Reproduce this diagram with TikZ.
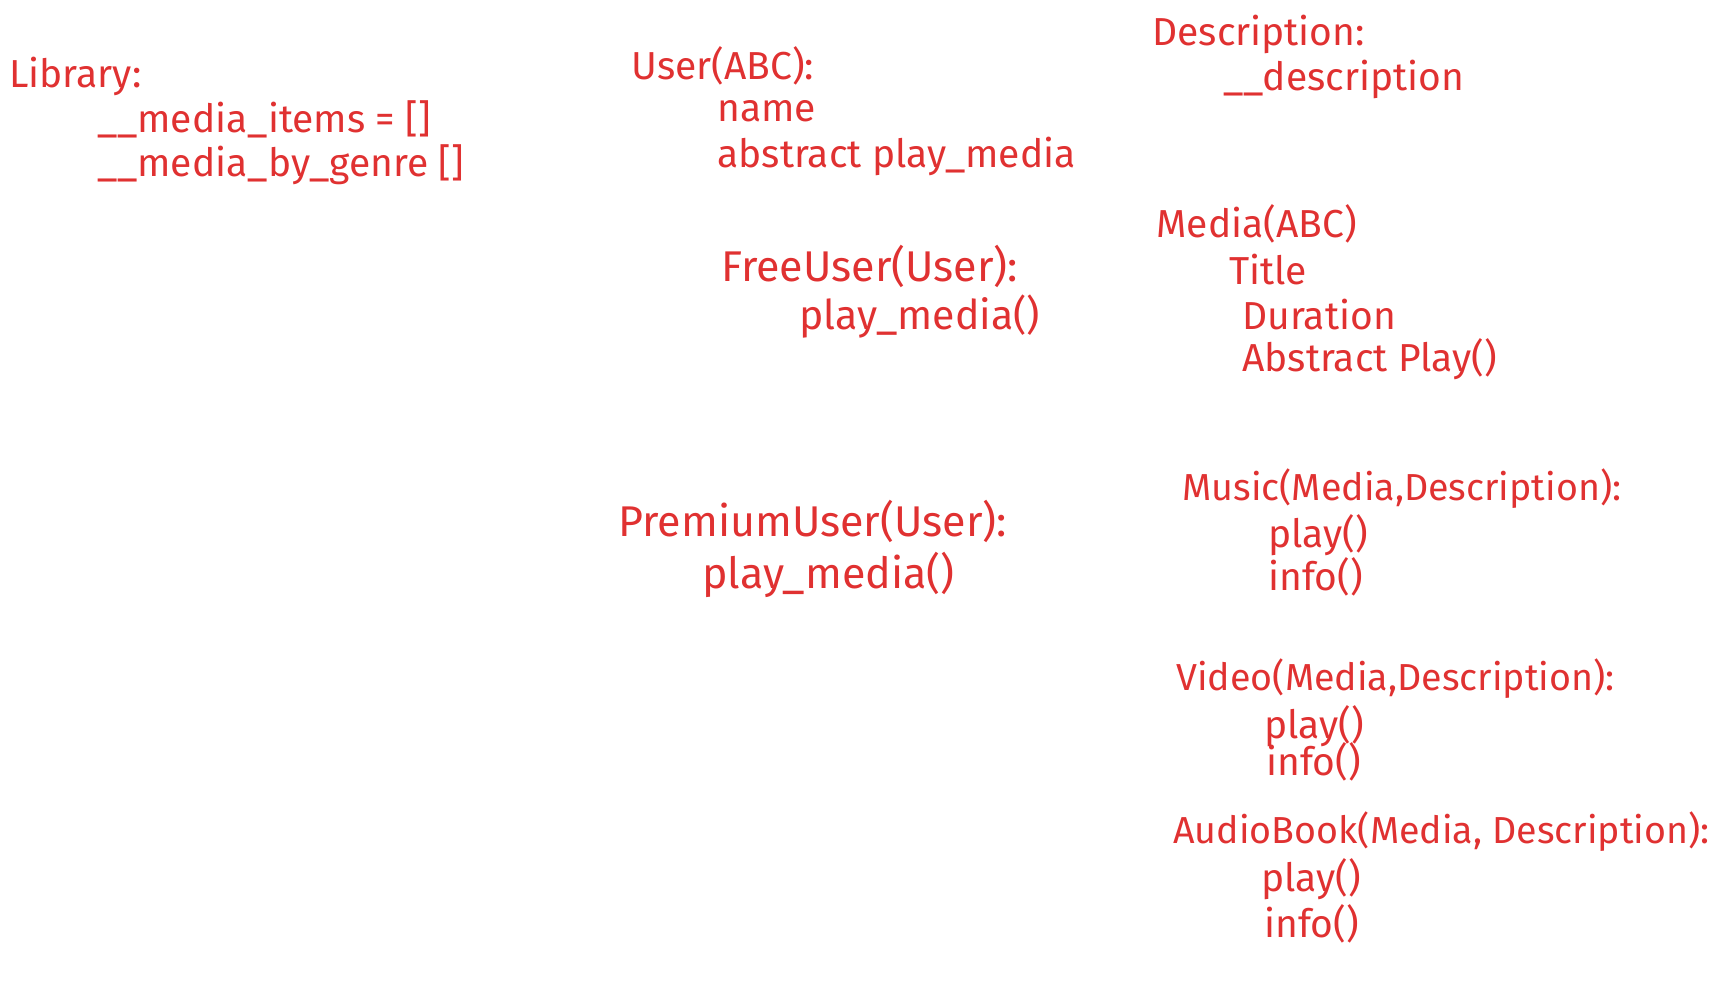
\documentclass[tikz,border=0pt]{standalone}
\usepackage{fontspec}
\setmainfont{Fira Sans}
\usetikzlibrary{positioning}
\definecolor{inkred}{HTML}{E03131}

\begin{document}
\begin{tikzpicture}[
      x=0.5pt,y=-0.5pt,
      txt/.style={anchor=west,inner sep=0pt,text=inkred,font=\fontsize{19.5pt}{23pt}\selectfont},
      small/.style={txt,font=\fontsize{18.8pt}{23pt}\selectfont},
      big/.style={txt,font=\fontsize{21.5pt}{26pt}\selectfont},
      mid/.style={txt,font=\fontsize{20.5pt}{25pt}\selectfont}
    ]
      \useasboundingbox (0,0) rectangle (1728,998);
      % library
      \node[txt] (lib) at (9,76) {Library:};
      \node[txt] (libitems) at (97,119) {\_\_media\_items = []};
      \node[txt] (libgenre) at (97,165) {\_\_media\_by\_genre []};
      % users
      \node[txt] (user) at (631,66) {User(ABC):};
      \node[txt] (username) at (717,111) {name};
      \node[txt] (userplay) at (717,156) {abstract play\_media};
      \node[big] (free) at (721,266) {FreeUser(User):};
      \node[mid] (freeplay) at (799,317) {play\_media()};
      \node[big] (prem) at (618,521) {PremiumUser(User):};
      \node[big] (premplay) at (702,575) {play\_media()};
      % description and media
      \node[txt] (desc) at (1152,34) {Description:};
      \node[txt] (descattr) at (1223,79) {\_\_description};
      \node[txt] (media) at (1156,224) {Media(ABC)};
      \node[txt] (mtitle) at (1229,270) {Title};
      \node[txt] (mdur) at (1242,315) {Duration};
      \node[txt] (mplay) at (1242,359) {Abstract Play()};
      % media kinds
      \node[small] (music) at (1182,489) {Music(Media,Description):};
      \node[txt] (musicplay) at (1268,535) {play()};
      \node[txt] (musicinfo) at (1268,577) {info()};
      \node[small] (video) at (1176,679) {Video(Media,Description):};
      \node[txt] (videoplay) at (1264,726) {play()};
      \node[txt] (videoinfo) at (1266,762) {info()};
      \node[small] (audio) at (1173,832) {AudioBook(Media, Description):};
      \node[txt] (audioplay) at (1261,879) {play()};
      \node[txt] (audioinfo) at (1264,924) {info()};
    \end{tikzpicture}
\end{document}
